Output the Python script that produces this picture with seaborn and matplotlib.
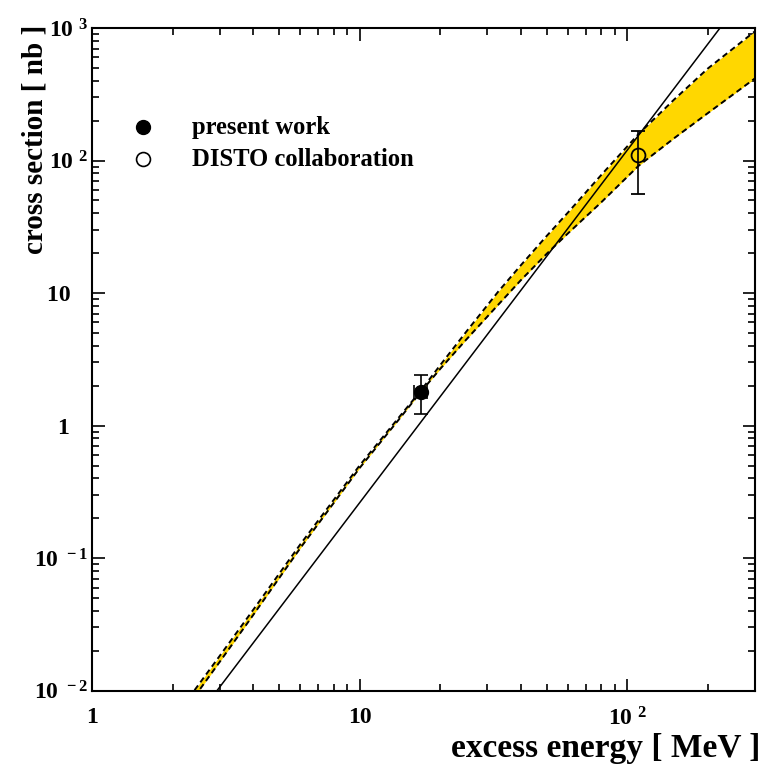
import numpy as np
import pandas as pd
import seaborn as sns
import matplotlib.pyplot as plt
from matplotlib.ticker import LogLocator, FuncFormatter, NullFormatter

# measured points
present_x = [16.9]
present_y = [1.8]
present_yerr_lo = [0.58]
present_yerr_hi = [0.59]
present_xerr = [0.95]

disto_x = [110.0]
disto_y = [110.0]
disto_yerr_lo = [54.0]
disto_yerr_hi = [56.0]

# band (uncertainty of fit)
band_energy = [2.3, 3, 4, 6, 10, 14, 16.9, 20, 25, 33, 40, 50, 60, 80, 110, 150, 200, 300]
band_upper = [0.00881, 0.0183, 0.0407, 0.127, 0.501, 1.15, 1.83, 2.86, 5.1, 10.3, 16.2, 27.0,
              40.5, 78, 158, 290, 495, 945]
band_lower = [0.00785, 0.0165, 0.0372, 0.119, 0.479, 1.11, 1.79, 2.68, 4.45, 8.2, 12.5, 19.8,
              28.2, 48.5, 91, 148, 228, 417]

# solid line
line_energy = [2.93, 222.0]
line_sigma = [0.01, 1000.0]

sns.set_theme(style='ticks')
plt.rcParams['font.family'] = ['Liberation Serif', 'DejaVu Serif']
plt.rcParams['font.weight'] = 'bold'
plt.rcParams['text.color'] = 'black'
plt.rcParams['xtick.color'] = 'black'
plt.rcParams['ytick.color'] = 'black'
plt.rcParams['mathtext.fontset'] = 'custom'
plt.rcParams['mathtext.rm'] = 'Liberation Serif:bold'
plt.rcParams['mathtext.bf'] = 'Liberation Serif:bold'
plt.rcParams['mathtext.it'] = 'Liberation Serif:bold:italic'

fig = plt.figure(figsize=(7.65, 7.69), dpi=100)
ax = fig.add_axes([92 / 765, 1 - 690.7 / 769, 663 / 765, 662.7 / 769])
ax.set_xscale('log')
ax.set_yscale('log')

ax.fill_between(band_energy, band_lower, band_upper, color='#FFD700', lw=0, zorder=1)

band = pd.DataFrame({'energy': band_energy, 'upper': band_upper, 'lower': band_lower})
for col in ['upper', 'lower']:
    sns.lineplot(data=band, x='energy', y=col, ax=ax, color='black', lw=1.4,
                 sort=False, estimator=None, zorder=2)
for l in ax.lines:
    l.set_dashes((3, 2))

sns.lineplot(x=line_energy, y=line_sigma, ax=ax, color='black', lw=1.1, estimator=None, zorder=3)

ax.errorbar(present_x, present_y, yerr=[present_yerr_lo, present_yerr_hi], xerr=[present_xerr, present_xerr],
            fmt='o', ms=10, mfc='black', mec='black', ecolor='black', elinewidth=1.2, capsize=5,
            capthick=1.2, zorder=5)
ax.errorbar(disto_x, disto_y, yerr=[disto_yerr_lo, disto_yerr_hi],
            fmt='o', ms=10, mfc='none', mec='black', mew=1.3, ecolor='black', elinewidth=1.2,
            capsize=5, capthick=1.2, zorder=5)

ax.set_xlim(1, 300)
ax.set_ylim(0.01, 1000)
ax.set_xlabel('')
ax.set_ylabel('')


def fmt_x(v, pos):
    e = int(round(np.log10(v)))
    if e == 0:
        return '1'
    if e == 1:
        return '10'
    return r'$10^{\;\,%d}$' % e


def fmt_y(v, pos):
    # ROOT style: mantissa aligned, exponent hanging to the right
    e = int(round(np.log10(v)))
    if e == 0:
        return '1   '
    if e == 1:
        return '10   '
    return r'$10^{\;\,%d}$' % e


for axis, f in [(ax.xaxis, fmt_x), (ax.yaxis, fmt_y)]:
    axis.set_major_locator(LogLocator(base=10))
    axis.set_minor_locator(LogLocator(base=10, subs=np.arange(2, 10)))
    axis.set_major_formatter(FuncFormatter(f))
    axis.set_minor_formatter(NullFormatter())

ax.tick_params(which='both', direction='in', top=True, right=True, width=1.2, colors='black',
               labelsize=17)
ax.tick_params(which='major', length=9)
ax.tick_params(which='minor', length=5)
ax.tick_params(axis='x', pad=12)
ax.tick_params(axis='y', pad=3)
for s in ax.spines.values():
    s.set_linewidth(1.5)
    s.set_color('black')

# legend
ax.plot([0.0769], [0.8506], 'o', ms=10, color='black', transform=ax.transAxes)
ax.plot([0.0769], [0.8023], 'o', ms=10, mfc='white', mec='black', mew=1.2, transform=ax.transAxes)
ax.text(0.1508, 0.8506, 'present work', transform=ax.transAxes, fontsize=17.7, fontweight='bold',
        va='center', ha='left')
ax.text(0.1508, 0.8023, 'DISTO collaboration', transform=ax.transAxes, fontsize=17.7,
        fontweight='bold', va='center', ha='left')

fig.text(35 / 765, 1 - 25 / 769, 'cross section [ nb ]', rotation=90, ha='center', va='top',
         fontsize=21, fontweight='bold')
fig.text(760 / 765, 1 - 748 / 769, 'excess energy [ MeV ]', ha='right', va='center',
         fontsize=24, fontweight='bold')

fig.savefig('out.png', dpi=100)
